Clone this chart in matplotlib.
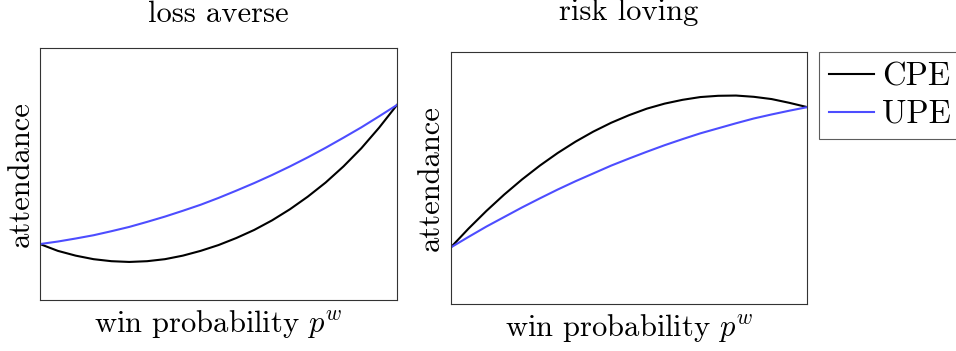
import matplotlib
matplotlib.use("Agg")
import matplotlib.pyplot as plt

plt.rcParams["font.family"] = "serif"
plt.rcParams["font.serif"] = ["cmr10", "DejaVu Serif"]
plt.rcParams["mathtext.fontset"] = "cm"
plt.rcParams["axes.formatter.use_mathtext"] = True

# win probability grid (share of axis width)
p_w = [0.00, 0.05, 0.10, 0.15, 0.20, 0.25, 0.30, 0.35, 0.40, 0.45, 0.50,
       0.55, 0.60, 0.65, 0.70, 0.75, 0.80, 0.85, 0.90, 0.95, 1.00]

# loss averse panel
loss_cpe = [0.222, 0.195, 0.176, 0.162, 0.154, 0.151, 0.154, 0.162, 0.176, 0.195, 0.218,
            0.246, 0.278, 0.316, 0.360, 0.410, 0.466, 0.530, 0.602, 0.684, 0.774]
loss_upe = [0.222, 0.232, 0.244, 0.257, 0.273, 0.290, 0.310, 0.331, 0.354, 0.378, 0.405,
            0.434, 0.464, 0.496, 0.530, 0.566, 0.604, 0.644, 0.685, 0.729, 0.774]

# risk loving panel
risk_cpe = [0.223, 0.298, 0.368, 0.433, 0.493, 0.548, 0.598, 0.643, 0.683, 0.718, 0.748,
            0.774, 0.794, 0.809, 0.820, 0.825, 0.826, 0.821, 0.812, 0.797, 0.780]
risk_upe = [0.223, 0.265, 0.306, 0.344, 0.382, 0.418, 0.453, 0.486, 0.517, 0.548, 0.576,
            0.603, 0.629, 0.653, 0.676, 0.696, 0.716, 0.735, 0.751, 0.766, 0.780]

titles = ["loss averse", "risk loving"]
BLUE = "#4d4dff"

W, H = 956, 351
fig = plt.figure(figsize=(W / 100, H / 100), dpi=100)

# axes boxes in pixels: left, top, right, bottom
boxes = [(40, 48, 397, 300), (450.7, 51.7, 807.3, 303.7)]
title_pads = [18.5, 23.0]

axes = []
for (l, t, r, b) in boxes:
    ax = fig.add_axes([l / W, 1 - b / H, (r - l) / W, (b - t) / H])
    axes.append(ax)

panels = [(loss_cpe, loss_upe), (risk_cpe, risk_upe)]
for ax, (cpe, upe), title, pad in zip(axes, panels, titles, title_pads):
    ax.plot(p_w, cpe, color="black", lw=1.5, label="CPE")
    ax.plot(p_w, upe, color=BLUE, lw=1.5, label="UPE")
    ax.set_xlim(0, 1)
    ax.set_ylim(0, 1)
    ax.set_xticks([])
    ax.set_yticks([])
    for s in ax.spines.values():
        s.set_color("#333333")
        s.set_linewidth(0.8)
    ax.set_title(title, fontsize=22, pad=pad)
    ax.set_xlabel(r"win probability $p^w$", fontsize=22, labelpad=6)
    ax.set_ylabel("attendance", fontsize=22, labelpad=4)

leg = axes[1].legend(loc="upper left", bbox_to_anchor=(819 / W, 1 - 52.3 / H),
                     bbox_transform=fig.transFigure, borderaxespad=0,
                     fontsize=23.5, frameon=True, fancybox=False,
                     handlelength=1.38, handletextpad=0.25, labelspacing=0.27,
                     borderpad=0.3)
leg.get_frame().set_edgecolor("#333333")
leg.get_frame().set_linewidth(0.8)

fig.savefig("out.png", dpi=100)
